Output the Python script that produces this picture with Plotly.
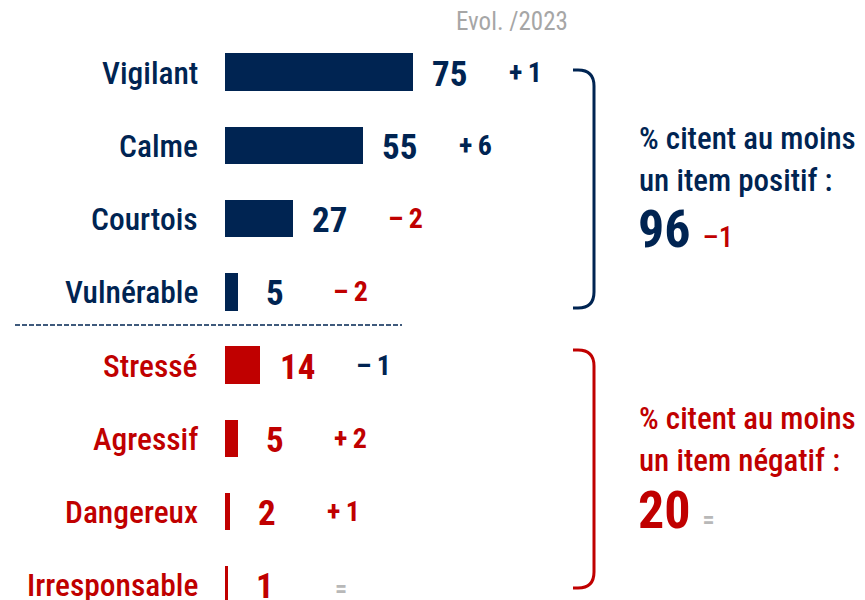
import plotly.graph_objects as go

# ---------------- data ----------------
categories = ["Vigilant", "Calme", "Courtois", "Vulnérable",
              "Stressé", "Agressif", "Dangereux", "Irresponsable"]
values = [75, 55, 27, 5, 14, 5, 2, 1]
evolutions = ["+1", "+6", "-2", "-2", "-1", "+2", "+1", "="]
groups = ["pos", "pos", "pos", "pos", "neg", "neg", "neg", "neg"]
evol_kind = ["good", "good", "bad", "bad", "good", "bad", "bad", "same"]

evol_header = "Evol. /2023"
pos_text = ["% citent au moins", "un item positif :"]
pos_total, pos_total_evol = "96", "-1"
neg_text = ["% citent au moins", "un item négatif :"]
neg_total, neg_total_evol = "20", "="

# ---------------- style ----------------
NAVY = "#002452"
RED = "#C00000"
GREY = "#A6A6A6"
LIGHTGREY = "#B8B8B8"
FONT = "Roboto Condensed, Open Sans Condensed, Roboto, sans-serif"
W, H = 865, 600
BAR_X0 = 225          # pixel where the value axis starts
PX_PER_UNIT = 2.5
ROW0, ROW_STEP = 72, 73.25

group_color = {"pos": NAVY, "neg": RED}
evol_color = {"good": NAVY, "bad": RED, "same": LIGHTGREY}


def px(x):
    return x / W


def py(y):
    return 1 - y / H


def fmt_evol(e):
    if e == "=":
        return e
    sign = "\u2013" if e[0] == "-" else "+"
    return sign + "\u2009" + e[1:]


positions = list(range(len(categories)))
bar_colors = [group_color[g] for g in groups]

fig = go.Figure()
fig.add_trace(go.Bar(
    x=values, y=positions, orientation="h",
    marker=dict(color=bar_colors, line=dict(width=0)),
    width=0.512, hoverinfo="skip",
))

annotations = []
for cat, v, p, g, ev, ek in zip(categories, values, positions, groups, evolutions, evol_kind):
    c = group_color[g]
    annotations.append(dict(
        x=0, y=p, xref="x", yref="y", text=cat, showarrow=False,
        xanchor="right", yanchor="middle", xshift=-25, yshift=-1,
        font=dict(family=FONT, size=31.5, color=c, weight=500),
    ))
    annotations.append(dict(
        x=v, y=p, xref="x", yref="y", text=str(v), showarrow=False,
        xanchor="center", yanchor="middle", xshift=37, yshift=-2,
        font=dict(family=FONT, size=35, color=c, weight="bold"),
    ))
    annotations.append(dict(
        x=v, y=p, xref="x", yref="y", text=fmt_evol(ev), showarrow=False,
        xanchor="center", yanchor="middle", xshift=113,
        yshift=0 if ek != "same" else -4,
        font=dict(family=FONT, size=28 if ek != "same" else 24,
                  color=evol_color[ek], weight="bold"),
    ))

annotations.append(dict(
    x=px(512), y=py(22), xref="paper", yref="paper", text=evol_header,
    showarrow=False, xanchor="center", yanchor="middle",
    font=dict(family=FONT, size=25, color=GREY),
))


def summary(lines, total, tevol, color, tevol_color, top):
    for k, line in enumerate(lines):
        annotations.append(dict(
            x=px(637), y=py(top + 42 * k), xref="paper", yref="paper", text=line,
            showarrow=False, xanchor="left", yanchor="middle",
            font=dict(family=FONT, size=31, color=color, weight=500),
        ))
    if tevol == "=":
        small = "<span style='font-size:24px;font-weight:bold;color:%s'>=</span>" % tevol_color
    else:
        small = ("<span style='font-size:29px;font-weight:500;color:%s'>%s</span>"
                 % (tevol_color, tevol.replace("-", "\u2013")))
    text = f"<span style='font-size:52px'>{total} </span>{small}"
    annotations.append(dict(
        x=px(636), y=py(top + 92), xref="paper", yref="paper", text=text,
        showarrow=False, xanchor="left", yanchor="middle",
        font=dict(family=FONT, size=52, color=color, weight="bold"),
    ))


summary(pos_text, pos_total, pos_total_evol, NAVY, RED, 138)
summary(neg_text, neg_total, neg_total_evol, RED, LIGHTGREY, 418)


def bracket(y0, y1, color):
    x0, x1, r = 573, 594, 16
    path = (f"M {px(x0)},{py(y0)} "
            f"L {px(x1 - r)},{py(y0)} "
            f"Q {px(x1)},{py(y0)} {px(x1)},{py(y0 + r)} "
            f"L {px(x1)},{py(y1 - r)} "
            f"Q {px(x1)},{py(y1)} {px(x1 - r)},{py(y1)} "
            f"L {px(x0)},{py(y1)}")
    return dict(type="path", path=path, xref="paper", yref="paper",
                line=dict(color=color, width=3))


shapes = [
    bracket(70, 308, NAVY),
    bracket(350, 588, RED),
    dict(type="line", xref="paper", yref="paper",
         x0=px(15), x1=px(402), y0=py(325), y1=py(325),
         line=dict(color=NAVY, width=1.5, dash="5px,2px")),
]

fig.update_layout(
    width=W, height=H,
    margin=dict(l=0, r=0, t=0, b=0),
    paper_bgcolor="white", plot_bgcolor="white",
    showlegend=False,
    xaxis=dict(domain=[px(BAR_X0), 1], range=[0, (W - BAR_X0) / PX_PER_UNIT],
               visible=False, fixedrange=True),
    yaxis=dict(domain=[0, 1],
               range=[(H - ROW0) / ROW_STEP, -ROW0 / ROW_STEP],
               visible=False, fixedrange=True),
    annotations=annotations,
    shapes=shapes,
    bargap=0,
)

fig.write_html("out.html", config={"displayModeBar": False},
               post_script="document.body.style.margin='0';")
